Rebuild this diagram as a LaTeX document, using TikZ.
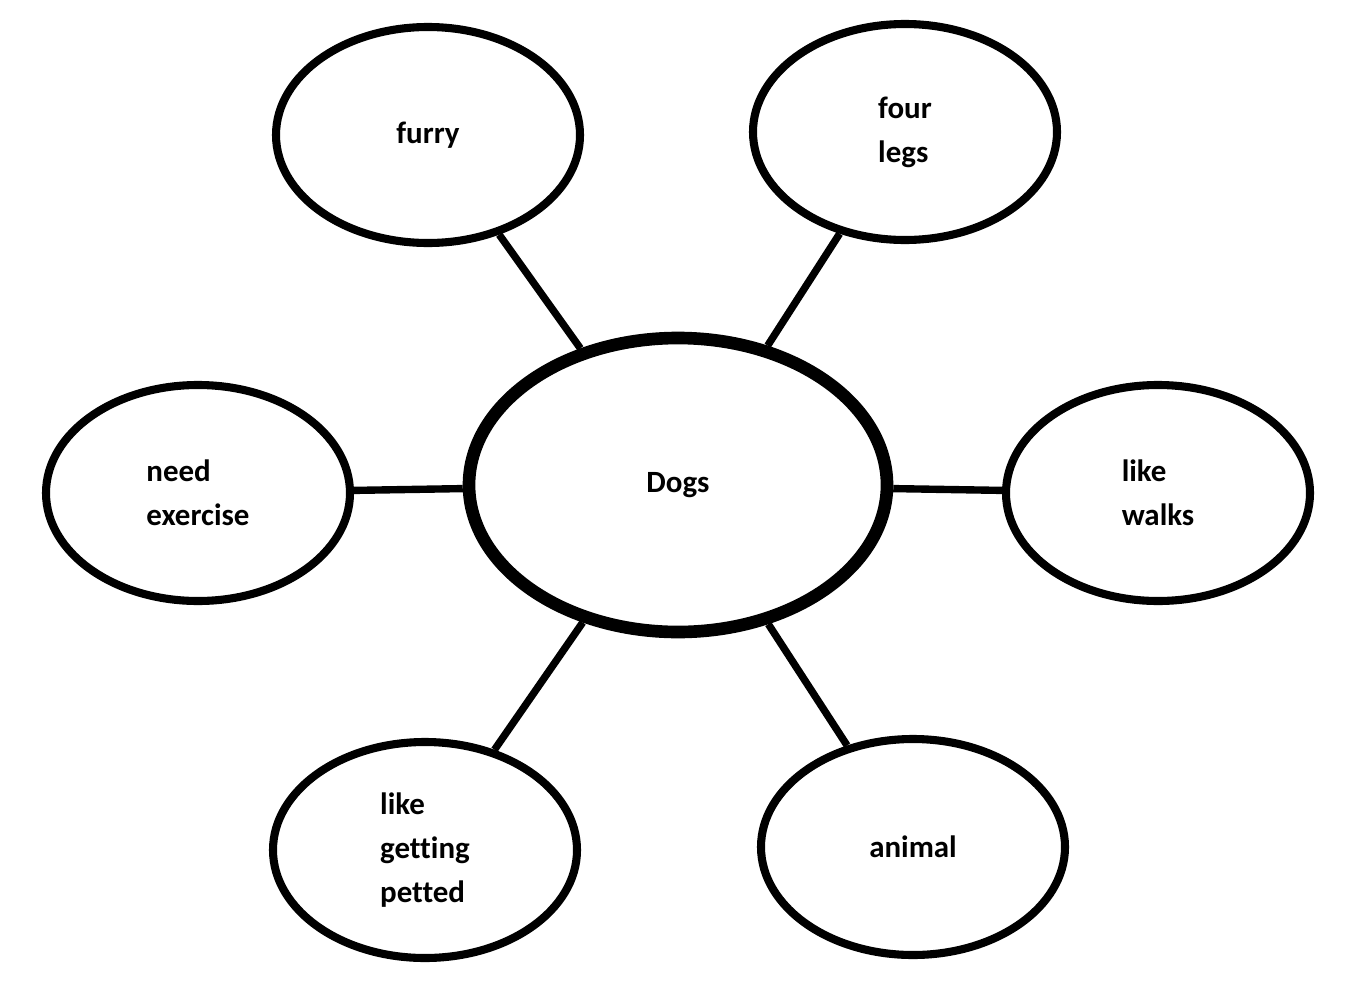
\documentclass[tikz,border=0pt]{standalone}
\usepackage{fontspec}
\setmainfont[Ligatures=NoCommon]{Carlito}
\usetikzlibrary{shapes.geometric}
\tikzset{
	idea/.style={draw=black, ellipse, line width=2.3pt, minimum width=3.04cm, minimum height=2.16cm, inner sep=0pt, align=left, font=\fontsize{8.8}{12.5}\selectfont\bfseries},
	hub/.style={idea, line width=3.6pt, minimum width=4.18cm, minimum height=2.94cm},
	spoke/.style={line width=2.1pt}
}
\begin{document}
\begin{tikzpicture}
	\useasboundingbox (0,0) rectangle (13.48,-9.93);
	\node [hub] (dogs) at (6.78,-4.85) {Dogs};
	\node [idea] (furry) at (4.28,-1.35) {furry};
	\node [idea] (legs) at (9.05,-1.32) {four\\legs};
	\node [idea] (exercise) at (1.98,-4.93) {need\\exercise};
	\node [idea] (walks) at (11.58,-4.93) {like\\walks};
	\node [idea] (petted) at (4.25,-8.50) {like\\getting\\petted};
	\node [idea] (animal) at (9.13,-8.47) {animal};
	\draw [spoke] (dogs) -- (furry);
	\draw [spoke] (dogs) -- (legs);
	\draw [spoke] (dogs) -- (exercise);
	\draw [spoke] (dogs) -- (walks);
	\draw [spoke] (dogs) -- (petted);
	\draw [spoke] (dogs) -- (animal);
\end{tikzpicture}
\end{document}
